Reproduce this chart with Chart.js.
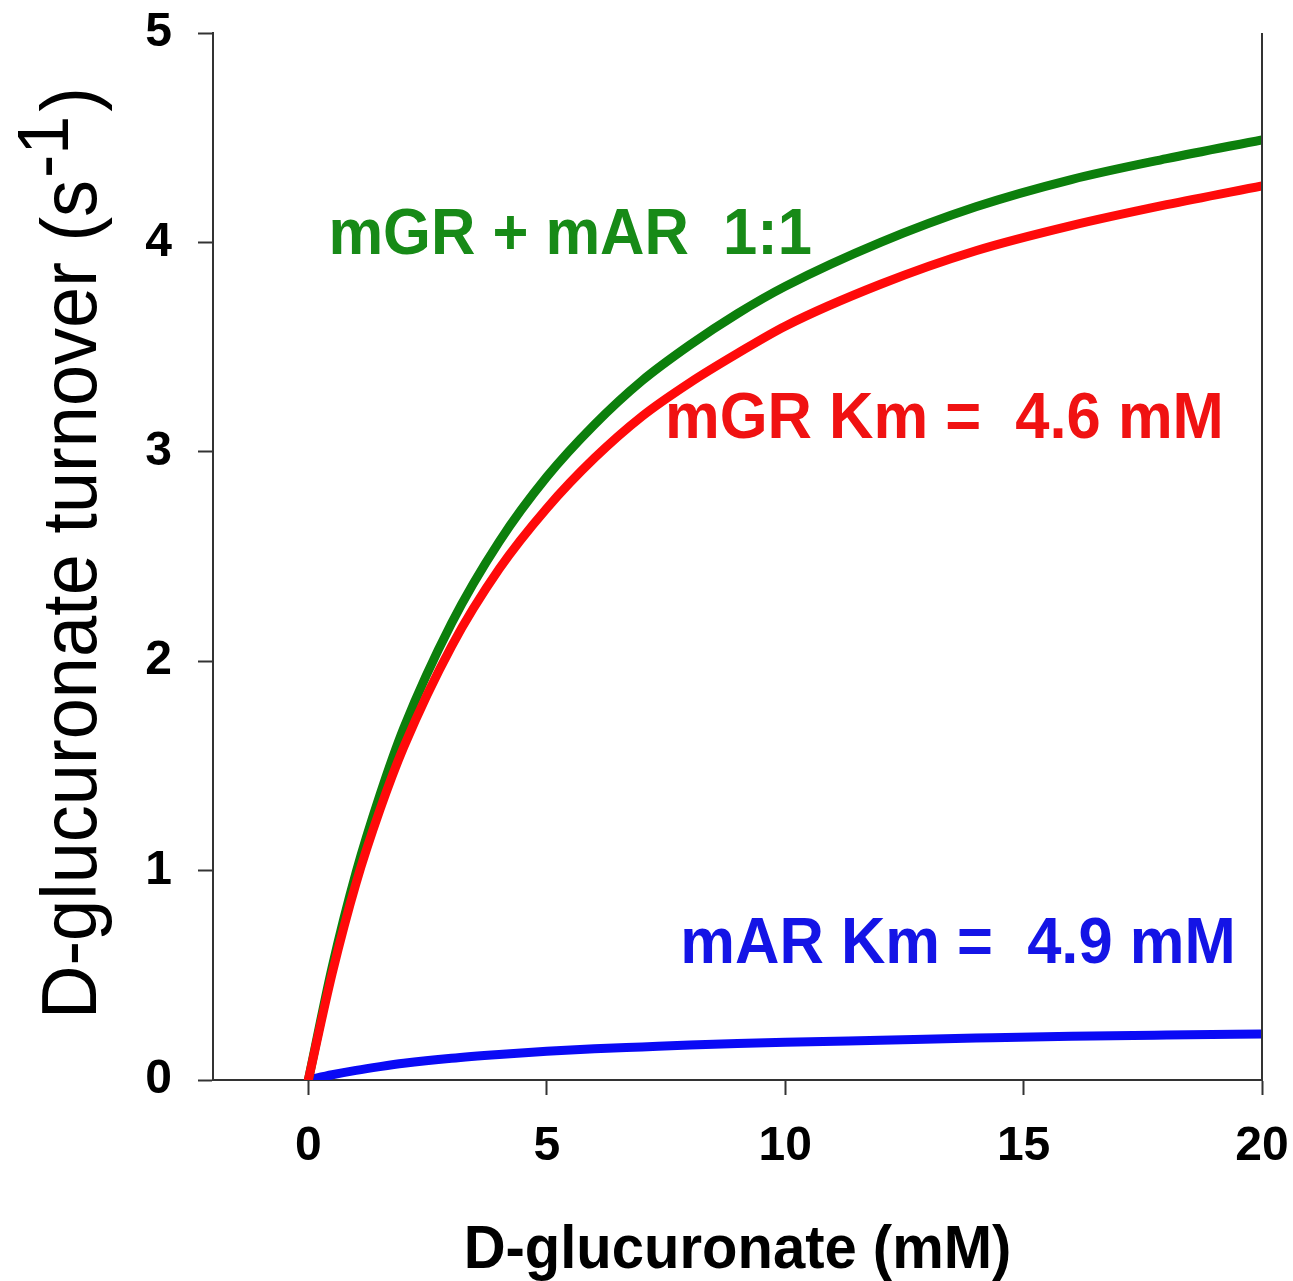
<!DOCTYPE html>
<html>
<head>
<meta charset="utf-8">
<script src="https://cdn.jsdelivr.net/npm/chart.js@4.4.0/dist/chart.umd.min.js"></script>
<style>
  html, body { margin: 0; padding: 0; background: #fff; }
  #wrap { width: 1293px; height: 1281px; }
</style>
</head>
<body>
<div id="wrap"><canvas id="turnoverChart" width="1293" height="1281"></canvas></div>
<script>
// D-glucuronate concentration (mM)
const concentration = [0, 0.5, 1, 1.5, 2, 3, 4, 5, 6, 7, 8, 9, 10, 12, 14, 16, 18, 20];
// turnover (s^-1)
const mgrTurnover = [0, 0.51, 0.94, 1.29, 1.59, 2.07, 2.44, 2.73, 2.97, 3.17, 3.33, 3.47, 3.60, 3.80, 3.96, 4.08, 4.18, 4.27];
const mixTurnover = [0, 0.54, 0.99, 1.36, 1.68, 2.18, 2.57, 2.88, 3.13, 3.34, 3.51, 3.66, 3.79, 4.00, 4.17, 4.30, 4.40, 4.49];
const marTurnover = [0, 0.025, 0.046, 0.064, 0.08, 0.104, 0.122, 0.137, 0.149, 0.158, 0.167, 0.174, 0.180, 0.190, 0.200, 0.209, 0.215, 0.22];

const xTicks = [0, 5, 10, 15, 20];
const yTicks = [0, 1, 2, 3, 4, 5];

const curveLabels = ["mGR + mAR  1:1", "mGR Km =  4.6 mM", "mAR Km =  4.9 mM"];
const xTitle = "D-glucuronate (mM)";
const yTitle = "D-glucuronate turnover (s";

const FONT = "'Liberation Sans', Arial, sans-serif";
const AXIS = "#333333";

const toPoints = (ys) => concentration.map((x, i) => ({ x: x, y: ys[i] }));

const lineStyle = {
  borderWidth: 9,
  pointRadius: 0,
  fill: false,
  cubicInterpolationMode: "monotone",
  borderCapStyle: "round"
};

// free text: curve labels, axis titles, right frame line
const textPlugin = {
  id: "textPlugin",
  afterDraw(chart) {
    const ctx = chart.ctx;
    const xs = chart.scales.x;
    const ys = chart.scales.y;
    const area = chart.chartArea;
    ctx.save();

    // right frame
    ctx.strokeStyle = AXIS;
    ctx.lineWidth = 2;
    ctx.beginPath();
    ctx.moveTo(area.right, area.top);
    ctx.lineTo(area.right, area.bottom);
    ctx.stroke();

    // curve labels (slightly tall glyphs like the original)
    const spots = [
      { x: 0.42, y: 3.945, color: "#178a17" },
      { x: 7.48, y: 3.066, color: "#f01212" },
      { x: 7.80, y: 0.559, color: "#1414e6" }
    ];
    ctx.textAlign = "left";
    ctx.textBaseline = "alphabetic";
    curveLabels.forEach((t, i) => {
      ctx.save();
      ctx.translate(xs.getPixelForValue(spots[i].x), ys.getPixelForValue(spots[i].y));
      ctx.scale(1, 1.05);
      ctx.font = "bold 61.5px " + FONT;
      ctx.fillStyle = spots[i].color;
      ctx.fillText(t, 0, 0);
      ctx.restore();
    });

    // x title
    ctx.save();
    ctx.translate((area.left + area.right) / 2, 1268);
    ctx.scale(1, 1.05);
    ctx.fillStyle = "#000";
    ctx.font = "bold 58px " + FONT;
    ctx.textAlign = "center";
    ctx.fillText(xTitle, 0, 0);
    ctx.restore();

    // y title with superscript
    ctx.save();
    ctx.fillStyle = "#000";
    ctx.translate(96, 1019);
    ctx.rotate(-Math.PI / 2);
    ctx.scale(1, 1.04);
    ctx.textAlign = "left";
    ctx.font = "74px " + FONT;
    ctx.fillText(yTitle, 0, 0);
    let w = ctx.measureText(yTitle).width;
    ctx.font = "70px " + FONT;
    ctx.fillText("-1", w + 2, -27);
    w += ctx.measureText("-1").width + 6;
    ctx.font = "74px " + FONT;
    ctx.fillText(")", w, 0);
    ctx.restore();

    ctx.restore();
  }
};

new Chart(document.getElementById("turnoverChart"), {
  type: "line",
  data: {
    datasets: [
      { label: "mGR", data: toPoints(mgrTurnover), borderColor: "#ff0a0a", ...lineStyle },
      { label: "mGR + mAR", data: toPoints(mixTurnover), borderColor: "#0c7f0c", ...lineStyle },
      { label: "mAR", data: toPoints(marTurnover), borderColor: "#0a0af5", ...lineStyle }
    ]
  },
  options: {
    responsive: false,
    animation: false,
    layout: { padding: { top: 33, right: 31, left: 0, bottom: 0 } },
    plugins: { legend: { display: false }, tooltip: { enabled: false } },
    scales: {
      x: {
        type: "linear",
        min: -2,
        max: 20,
        afterBuildTicks: (s) => { s.ticks = xTicks.map(v => ({ value: v })); },
        afterFit: (s) => { s.height = 201; s.paddingLeft = 0; s.paddingRight = 0; },
        grid: { display: true, drawOnChartArea: false, drawTicks: true, tickLength: 15, tickWidth: 2, tickColor: AXIS, color: AXIS },
        border: { display: true, color: AXIS, width: 2 },
        ticks: { color: "#000", font: { family: FONT, size: 48, weight: "bold" }, padding: 23, maxRotation: 0, autoSkip: false }
      },
      y: {
        type: "linear",
        min: 0,
        max: 5,
        afterBuildTicks: (s) => { s.ticks = yTicks.map(v => ({ value: v })); },
        afterFit: (s) => { s.width = 213; s.paddingTop = 0; s.paddingBottom = 0; },
        grid: { display: true, drawOnChartArea: false, drawTicks: true, tickLength: 15, tickWidth: 2, tickColor: AXIS, color: AXIS },
        border: { display: true, color: AXIS, width: 2 },
        ticks: { color: "#000", font: { family: FONT, size: 48, weight: "bold" }, padding: 26, autoSkip: false }
      }
    }
  },
  plugins: [textPlugin]
});
</script>
</body>
</html>
